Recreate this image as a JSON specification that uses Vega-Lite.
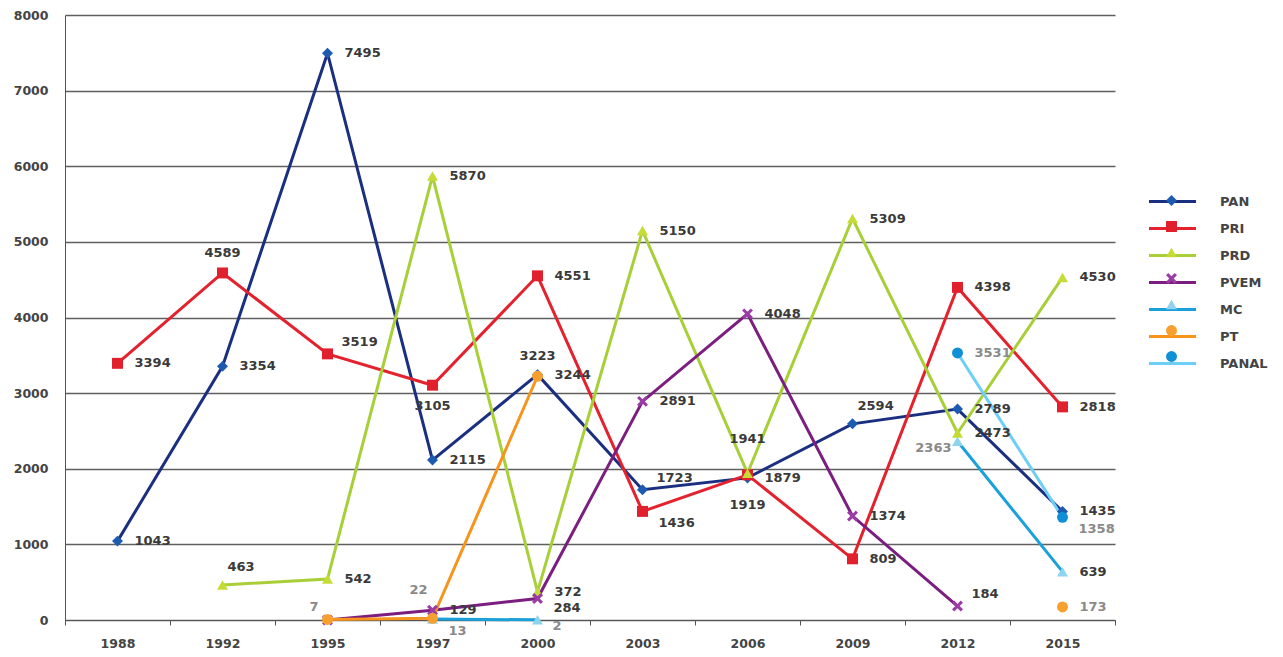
{
  "$schema": "https://vega.github.io/schema/vega-lite/v6.json",
  "autosize": {"type": "none"},
  "width": 1050,
  "height": 605,
  "padding": {"left": 65, "top": 15, "right": 168, "bottom": 37},
  "background": "#ffffff",
  "config": {
    "view": {"stroke": null},
    "text": {"font": "DejaVu Sans", "fontSize": 13, "fontWeight": "bold", "baseline": "middle"},
    "axis": {"labelFont": "DejaVu Sans", "labelFontSize": 12.5, "labelFontWeight": "bold", "labelColor": "#444444", "domainColor": "#555555", "tickColor": "#555555", "title": null}
  },
  "data": {"values": [
    {"party": "PAN", "year": "1988", "value": 1043},
    {"party": "PAN", "year": "1992", "value": 3354},
    {"party": "PAN", "year": "1995", "value": 7495},
    {"party": "PAN", "year": "1997", "value": 2115},
    {"party": "PAN", "year": "2000", "value": 3244},
    {"party": "PAN", "year": "2003", "value": 1723},
    {"party": "PAN", "year": "2006", "value": 1879},
    {"party": "PAN", "year": "2009", "value": 2594},
    {"party": "PAN", "year": "2012", "value": 2789},
    {"party": "PAN", "year": "2015", "value": 1435},
    {"party": "PRI", "year": "1988", "value": 3394},
    {"party": "PRI", "year": "1992", "value": 4589},
    {"party": "PRI", "year": "1995", "value": 3519},
    {"party": "PRI", "year": "1997", "value": 3105},
    {"party": "PRI", "year": "2000", "value": 4551},
    {"party": "PRI", "year": "2003", "value": 1436},
    {"party": "PRI", "year": "2006", "value": 1919},
    {"party": "PRI", "year": "2009", "value": 809},
    {"party": "PRI", "year": "2012", "value": 4398},
    {"party": "PRI", "year": "2015", "value": 2818},
    {"party": "PRD", "year": "1992", "value": 463},
    {"party": "PRD", "year": "1995", "value": 542},
    {"party": "PRD", "year": "1997", "value": 5870},
    {"party": "PRD", "year": "2000", "value": 372},
    {"party": "PRD", "year": "2003", "value": 5150},
    {"party": "PRD", "year": "2006", "value": 1941},
    {"party": "PRD", "year": "2009", "value": 5309},
    {"party": "PRD", "year": "2012", "value": 2473},
    {"party": "PRD", "year": "2015", "value": 4530},
    {"party": "PVEM", "year": "1995", "value": 0},
    {"party": "PVEM", "year": "1997", "value": 129},
    {"party": "PVEM", "year": "2000", "value": 284},
    {"party": "PVEM", "year": "2003", "value": 2891},
    {"party": "PVEM", "year": "2006", "value": 4048},
    {"party": "PVEM", "year": "2009", "value": 1374},
    {"party": "PVEM", "year": "2012", "value": 184},
    {"party": "MC", "year": "1997", "value": 13},
    {"party": "MC", "year": "2000", "value": 2},
    {"party": "MC", "year": "2003", "value": null},
    {"party": "MC", "year": "2006", "value": null},
    {"party": "MC", "year": "2009", "value": null},
    {"party": "MC", "year": "2012", "value": 2363},
    {"party": "MC", "year": "2015", "value": 639},
    {"party": "PT", "year": "1995", "value": 7},
    {"party": "PT", "year": "1997", "value": 22},
    {"party": "PT", "year": "2000", "value": 3223},
    {"party": "PT", "year": "2003", "value": null},
    {"party": "PT", "year": "2006", "value": null},
    {"party": "PT", "year": "2009", "value": null},
    {"party": "PT", "year": "2012", "value": null},
    {"party": "PT", "year": "2015", "value": 173},
    {"party": "PANAL", "year": "2012", "value": 3531},
    {"party": "PANAL", "year": "2015", "value": 1358}
  ]},
  "encoding": {
    "x": {"field": "year", "type": "ordinal", "scale": {"type": "band", "paddingInner": 0, "paddingOuter": 0},
      "axis": {"labelAngle": 0, "tickBand": "extent", "tickSize": 5, "labelPadding": 12, "grid": false}},
    "y": {"field": "value", "type": "quantitative", "scale": {"domain": [0, 8000]},
      "axis": {"values": [0, 1000, 2000, 3000, 4000, 5000, 6000, 7000, 8000], "format": "d", "grid": true, "gridColor": "#5f5f5f", "gridWidth": 1.3, "ticks": false, "labelPadding": 17, "domain": true}}
  },
  "layer": [
    {
      "mark": {"type": "line", "strokeWidth": 3},
      "encoding": {
        "stroke": {"field": "party", "type": "nominal",
          "scale": {"domain": ["PAN", "PRI", "PRD", "PVEM", "MC", "PT", "PANAL", "-"], "range": ["#1b2f80", "#e4222e", "#a9cf38", "#7b1e80", "#1aa0da", "#f7941d", "#6dcff6", "#ffffff"]},
          "legend": {"values": ["PAN", "PRI", "PRD", "PVEM", "MC", "PT", "PANAL"], "title": null, "orient": "none", "legendX": 1100, "legendY": 179,
            "symbolType": "M-4,0H4", "symbolSize": 138, "symbolStrokeWidth": 3, "labelOffset": 40, "rowPadding": 12,
            "labelFont": "DejaVu Sans", "labelFontSize": 13, "labelFontWeight": "bold", "labelColor": "#444444"}}
      }
    },
    {
      "mark": {"type": "point", "filled": true, "size": 120, "opacity": 1},
      "encoding": {
        "color": {"field": "party", "type": "nominal",
          "scale": {"domain": ["PAN", "PRI", "PRD", "PVEM", "MC", "PT", "PANAL"], "range": ["#1c5bb0", "#e0202c", "#c5dc36", "#9b3ca6", "#8fd3ef", "#f7a030", "#0f8fd6"]},
          "legend": {"title": null, "orient": "none", "legendX": 1100, "legendY": 179, "symbolSize": 120, "rowPadding": 12, "labelOpacity": 0, "labelFontSize": 13, "symbolStrokeWidth": 0}},
        "shape": {"field": "party", "type": "nominal",
          "scale": {"domain": ["PAN", "PRI", "PRD", "PVEM", "MC", "PT", "PANAL"], "range": ["diamond", "square", "triangle-up", "M-1,-0.6L-0.6,-1L0,-0.4L0.6,-1L1,-0.6L0.4,0L1,0.6L0.6,1L0,0.4L-0.6,1L-1,0.6L-0.4,0Z", "triangle-up", "circle", "circle"]},
          "legend": {"title": null, "orient": "none", "legendX": 1100, "legendY": 179, "symbolSize": 120, "rowPadding": 12, "labelOpacity": 0, "labelFontSize": 13, "symbolStrokeWidth": 0}}
      }
    },
    {
      "transform": [{"filter": "datum.value != null && (datum.party + '-' + datum.year) != 'PVEM-1995'"}],
      "encoding": {
        "text": {"field": "value", "type": "quantitative", "format": "d"},
        "color": {"condition": {"test": "indexof(['MC-1997','MC-2000','MC-2012','PT-1995','PT-1997','PT-2015','PANAL-2012','PANAL-2015'], datum.party + '-' + datum.year) >= 0", "value": "#8a8a8a"}, "value": "#3a3a3a"}
      },
      "layer": [
        {"transform": [{"filter": "indexof(['PAN-2003','PRI-1995','PVEM-2012','PAN-2009','PRD-1992','PRI-2003','PVEM-2000','PANAL-2015','MC-1997','MC-2000','PRI-1992','PT-2000','PRD-2006','PRI-1997','PRI-2006','PT-1995','PT-1997','MC-2012'], datum.party + '-' + datum.year) < 0"}],
          "mark": {"type": "text", "align": "left", "dx": 17, "dy": 0}},
        {"transform": [{"filter": "indexof(['PAN-2003','PRI-1995','PVEM-2012'], datum.party + '-' + datum.year) >= 0"}],
          "mark": {"type": "text", "align": "left", "dx": 14, "dy": -12}},
        {"transform": [{"filter": "indexof(['PAN-2009','PRD-1992'], datum.party + '-' + datum.year) >= 0"}],
          "mark": {"type": "text", "align": "left", "dx": 5, "dy": -18}},
        {"transform": [{"filter": "indexof(['PRI-2003','PANAL-2015','MC-1997'], datum.party + '-' + datum.year) >= 0"}],
          "mark": {"type": "text", "align": "left", "dx": 16, "dy": 12}},
        {"transform": [{"filter": "indexof(['PVEM-2000'], datum.party + '-' + datum.year) >= 0"}],
          "mark": {"type": "text", "align": "left", "dx": 16, "dy": 9}},
        {"transform": [{"filter": "indexof(['MC-2000'], datum.party + '-' + datum.year) >= 0"}],
          "mark": {"type": "text", "align": "left", "dx": 15, "dy": 6}},
        {"transform": [{"filter": "indexof(['PRI-1992','PT-2000'], datum.party + '-' + datum.year) >= 0"}],
          "mark": {"type": "text", "align": "center", "dx": 0, "dy": -20}},
        {"transform": [{"filter": "indexof(['PRD-2006'], datum.party + '-' + datum.year) >= 0"}],
          "mark": {"type": "text", "align": "center", "dx": 0, "dy": -34}},
        {"transform": [{"filter": "indexof(['PRI-1997'], datum.party + '-' + datum.year) >= 0"}],
          "mark": {"type": "text", "align": "center", "dx": 0, "dy": 21}},
        {"transform": [{"filter": "indexof(['PRI-2006'], datum.party + '-' + datum.year) >= 0"}],
          "mark": {"type": "text", "align": "center", "dx": 0, "dy": 30}},
        {"transform": [{"filter": "indexof(['PT-1995'], datum.party + '-' + datum.year) >= 0"}],
          "mark": {"type": "text", "align": "right", "dx": -9, "dy": -12}},
        {"transform": [{"filter": "indexof(['PT-1997'], datum.party + '-' + datum.year) >= 0"}],
          "mark": {"type": "text", "align": "right", "dx": -5, "dy": -28}},
        {"transform": [{"filter": "indexof(['MC-2012'], datum.party + '-' + datum.year) >= 0"}],
          "mark": {"type": "text", "align": "right", "dx": -6, "dy": 7}}
      ]
    }
  ]
}
